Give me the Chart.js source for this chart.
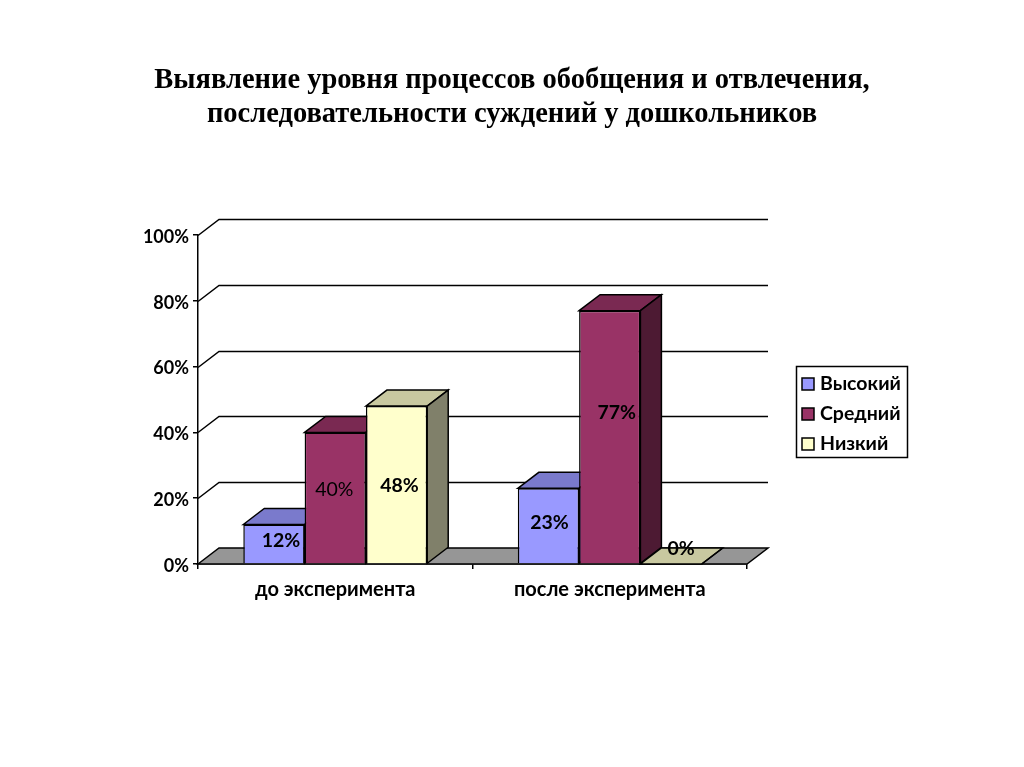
<!DOCTYPE html>
<html>
<head>
<meta charset="utf-8">
<title>Chart</title>
<style>
  html, body { margin: 0; background: #fff; }
  canvas { display: block; }
</style>
</head>
<body>
<canvas id="chart1" width="1024" height="767"></canvas>
<script src="https://cdn.jsdelivr.net/npm/chart.js@4/dist/chart.umd.min.js"></script>
<script>
const categories = ['до эксперимента', 'после эксперимента'];
const seriesNames = ['Высокий', 'Средний', 'Низкий'];
const high = [12, 23];
const medium = [40, 77];
const low = [48, 0];
const yTicks = [0, 20, 40, 60, 80, 100];
const titleLines = ['Выявление уровня процессов обобщения и отвлечения,', 'последовательности суждений у дошкольников'];

// front, top, side
const colors = [
    ['#9999ff', '#7a7acc', '#5c5c99'],
    ['#993366', '#7a2952', '#4d1a33'],
    ['#ffffcc', '#c8c8a0', '#80806a']
];
const depthX = 21;
const depthY = 16;
const sansFont = 'Lato, "Noto Sans", sans-serif';

// labels were dragged by hand in the original, shift from bar centre: [series][category]
const labelShift = [
    [[7, -3], [1, -3]],
    [[-1, -8], [7, -24]],
    [[3, 1], [10, -15]]
];
const labelWeight = [
    ['bold', 'bold'],
    ['normal', 'bold'],
    ['bold', 'bold']
];

function face(c, pts, fill) {
    c.beginPath();
    c.moveTo(pts[0][0], pts[0][1]);
    for (let i = 1; i < pts.length; i++) c.lineTo(pts[i][0], pts[i][1]);
    c.closePath();
    c.fillStyle = fill;
    c.fill();
    c.stroke();
}

const box3d = {
    id: 'box3d',
    beforeDatasetsDraw(chart) {
        const c = chart.ctx;
        const area = chart.chartArea;
        const y = chart.scales.y;
        c.save();
        c.strokeStyle = '#000';
        c.lineWidth = 1.5;

        // floor
        face(c, [
            [area.left, area.bottom],
            [area.left + depthX, area.bottom - depthY],
            [area.right + depthX, area.bottom - depthY],
            [area.right, area.bottom]
        ], '#969696');

        // back wall lines
        yTicks.forEach(t => {
            if (t === 0) return;
            const py = Math.round(y.getPixelForValue(t)) + 0.5;
            c.beginPath();
            c.moveTo(area.left, py);
            c.lineTo(area.left + depthX, py - depthY);
            c.lineTo(area.right + depthX, py - depthY);
            c.stroke();
        });

        // top and side of every bar, left to right
        for (let k = 0; k < categories.length; k++) {
            chart.data.datasets.forEach((ds, i) => {
                const el = chart.getDatasetMeta(i).data[k];
                const l = el.x - el.width / 2;
                const r = el.x + el.width / 2;
                face(c, [[l, el.y], [l + depthX, el.y - depthY], [r + depthX, el.y - depthY], [r, el.y]], colors[i][1]);
                face(c, [[r, el.y], [r + depthX, el.y - depthY], [r + depthX, el.base - depthY], [r, el.base]], colors[i][2]);
            });
        }
        c.restore();
    },
    afterDatasetsDraw(chart) {
        const c = chart.ctx;
        c.save();
        c.fillStyle = '#000';
        c.textAlign = 'center';
        c.textBaseline = 'middle';
        chart.data.datasets.forEach((ds, i) => {
            chart.getDatasetMeta(i).data.forEach((el, k) => {
                const s = labelShift[i][k];
                c.font = labelWeight[i][k] + ' 19.5px ' + sansFont;
                c.fillText(ds.data[k] + '%', el.x + s[0], (el.y + el.base) / 2 + s[1]);
            });
        });

        // legend box
        c.lineWidth = 1.5;
        c.strokeStyle = '#000';
        c.fillStyle = '#fff';
        c.fillRect(796.5, 366.5, 111, 91);
        c.strokeRect(796.5, 366.5, 111, 91);
        c.textAlign = 'left';
        c.font = 'bold 19.5px ' + sansFont;
        chart.data.datasets.forEach((ds, i) => {
            const ly = 384 + i * 30;
            c.fillStyle = colors[i][0];
            c.fillRect(802, ly - 6, 12, 12);
            c.strokeRect(802, ly - 6, 12, 12);
            c.fillStyle = '#000';
            c.fillText(ds.label, 820, ly);
        });
        c.restore();
    }
};

const chart1 = new Chart(document.getElementById('chart1').getContext('2d'), {
    type: 'bar',
    data: {
        labels: categories,
        datasets: [
            { label: seriesNames[0], data: high, backgroundColor: colors[0][0] },
            { label: seriesNames[1], data: medium, backgroundColor: colors[1][0] },
            { label: seriesNames[2], data: low, backgroundColor: colors[2][0] }
        ].map(d => Object.assign(d, {
            borderColor: '#000',
            borderWidth: 1.5,
            categoryPercentage: 0.67,
            barPercentage: 1
        }))
    },
    options: {
        responsive: false,
        animation: false,
        scales: {
            x: {
                afterFit: s => { s.height = 203; },
                grid: { drawOnChartArea: false, color: '#000', lineWidth: 1.5, tickLength: 5 },
                border: { color: '#000', width: 1.5 },
                ticks: {
                    color: '#000',
                    maxRotation: 0,
                    padding: 9,
                    font: { family: sansFont, weight: 'bold', size: 20 }
                }
            },
            y: {
                min: 0,
                max: 100,
                afterFit: s => { s.width = 198; },
                grid: { drawOnChartArea: false, color: '#000', lineWidth: 1.5, tickLength: 5 },
                border: { color: '#000', width: 1.5 },
                ticks: {
                    stepSize: 20,
                    color: '#000',
                    padding: 4,
                    labelOffset: 2,
                    font: { family: sansFont, weight: 'bold', size: 18 },
                    callback: v => v + '%'
                }
            },
            // empty room on the right for the legend, keeps the title centred on the page
            spacer: {
                type: 'linear',
                position: 'right',
                afterFit: s => { s.width = 277; },
                grid: { display: false },
                border: { display: false },
                ticks: { display: false }
            }
        },
        plugins: {
            legend: { display: false },
            tooltip: { enabled: false },
            title: {
                display: true,
                text: titleLines,
                color: '#000',
                font: { family: '"Liberation Serif", serif', weight: 'bold', size: 28.5, lineHeight: 1.193 },
                padding: { top: 64, bottom: 103 }
            }
        }
    },
    plugins: [box3d]
});
</script>
</body>
</html>
